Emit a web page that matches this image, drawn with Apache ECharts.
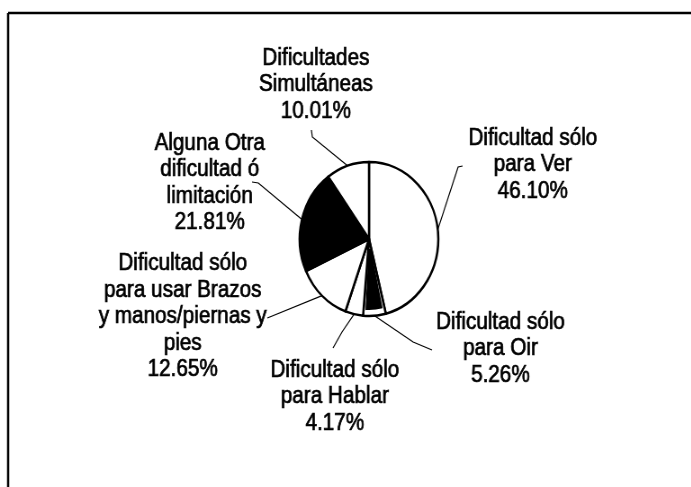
<!DOCTYPE html>
<html>
<head>
<meta charset="utf-8">
<script src="https://cdn.jsdelivr.net/npm/echarts@6/dist/echarts.min.js"></script>
<style>
  html, body { margin: 0; padding: 0; background: #fff; overflow: hidden; }
  /* the scanned original is squeezed horizontally, so the chart is drawn wider and scaled back */
  #chart { width: 768px; height: 487px; transform: scaleX(0.9); transform-origin: 0 0; }
</style>
</head>
<body>
<div id="chart"></div>
<script>
var categories = [
  'Dificultad sólo\npara Ver',
  'Dificultad sólo\npara Oir',
  'Dificultad sólo\npara Hablar',
  'Dificultad sólo\npara usar Brazos\ny manos/piernas y\npies',
  'Alguna Otra\ndificultad ó\nlimitación',
  'Dificultades\nSimultáneas'
];
var values = [46.10, 5.26, 4.17, 12.65, 21.81, 10.01];

// outer fill, and the inset fill drawn on top (Oir has a white rim round a black core)
var sliceColors = ['#ffffff', '#ffffff', '#ffffff', '#ffffff', '#000000', '#ffffff'];
var innerColors = ['transparent', '#000000', 'transparent', 'transparent', 'transparent', 'transparent'];

// label centre and leader line end, in chart coordinates
var labelPos = [
  { x: 592, y: 165, line: [[509, 167], [514, 166]] },
  { x: 556, y: 349, line: [[459, 342], [480, 350]] },
  { x: 372, y: 397, line: [[380, 332], [370, 348]] },
  { x: 203, y: 317, line: [[297, 318]] },
  { x: 233, y: 183, line: [[287, 183], [280, 182]] },
  { x: 351, y: 85,  line: [[347, 137], [346, 130]] }
];

var chart = echarts.init(document.getElementById('chart'));

var pieData = [];
var innerData = [];
for (var i = 0; i < values.length; i++) {
  pieData.push({
    name: categories[i],
    value: values[i],
    itemStyle: { color: sliceColors[i] }
  });
  innerData.push({
    name: categories[i],
    value: values[i],
    itemStyle: { color: innerColors[i] }
  });
}

var option = {
  animation: false,
  backgroundColor: '#ffffff',
  graphic: [
    { type: 'line', shape: { x1: 9, y1: 13, x2: 768, y2: 13 }, style: { stroke: '#000', lineWidth: 2.5 } },
    { type: 'line', shape: { x1: 9, y1: 13, x2: 9, y2: 487 }, style: { stroke: '#000', lineWidth: 2.5 } }
  ],
  series: [
    {
      type: 'pie',
      center: [410, 239],
      radius: [0, 77],
      startAngle: 90,
      clockwise: true,
      silent: true,
      itemStyle: { borderColor: '#000', borderWidth: 2.5 },
      emphasis: { disabled: true },
      label: {
        show: true,
        position: 'outside',
        color: '#000',
        fontFamily: 'Liberation Sans, Arial, sans-serif',
        fontSize: 23,
        lineHeight: 26.5,
        textBorderColor: '#000',
        textBorderWidth: 0.7,
        align: 'center',
        formatter: function (p) {
          return p.name + '\n' + p.value.toFixed(2) + '%';
        }
      },
      labelLine: {
        show: true,
        lineStyle: { color: '#000', width: 1.2 }
      },
      labelLayout: function (params) {
        var p = labelPos[params.dataIndex];
        var pts = [params.labelLinePoints[0]].concat(p.line);
        return {
          x: p.x,
          y: p.y,
          align: 'center',
          verticalAlign: 'middle',
          labelLinePoints: pts
        };
      },
      data: pieData
    },
    {
      type: 'pie',
      center: [410, 239],
      radius: [10, 71],
      startAngle: 90,
      clockwise: true,
      silent: true,
      padAngle: 3.5,
      itemStyle: { borderWidth: 0 },
      emphasis: { disabled: true },
      label: { show: false },
      labelLine: { show: false },
      data: innerData
    }
  ]
};

chart.setOption(option);
</script>
</body>
</html>
